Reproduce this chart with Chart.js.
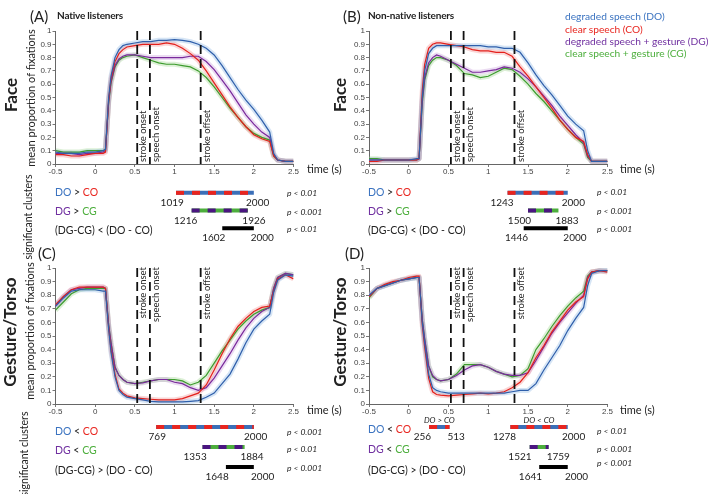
<!DOCTYPE html>
<html>
<head>
<meta charset="utf-8">
<script src="https://cdn.jsdelivr.net/npm/chart.js@4.4.1/dist/chart.umd.min.js"></script>
<style>
  html, body { margin: 0; padding: 0; background: #fff; }
  #fig { position: relative; width: 709px; height: 494px; overflow: hidden; font-family: Lato, "Open Sans", sans-serif; color: #222; }
  #fig canvas { position: absolute; }
  .t { position: absolute; white-space: nowrap; transform: translateY(-50%); line-height: 1; }
  .rot { position: absolute; white-space: nowrap; transform: translate(-50%, -50%) rotate(-90deg); line-height: 1; }
</style>
</head>
<body>
<div id="fig"></div>
<script>
// eixo do tempo (s), comum aos quatro painéis
const times = [-0.5, -0.4, -0.3, -0.2, -0.1, 0, 0.1, 0.13, 0.17, 0.2, 0.25, 0.3, 0.35, 0.4, 0.5, 0.6, 0.7, 0.8, 0.9, 1.0,
  1.1, 1.2, 1.3, 1.4, 1.5, 1.6, 1.7, 1.8, 1.9, 2.0, 2.1, 2.2, 2.25, 2.3, 2.4, 2.5];

// (A) Face, native listeners
const faceNatDO = [0.09,0.08,0.08,0.08,0.09,0.09,0.10,0.11,0.50,0.66,0.80,0.86,0.89,0.90,0.91,0.92,0.92,0.93,0.93,0.935,0.93,0.92,0.90,0.87,0.82,0.74,0.65,0.56,0.48,0.41,0.33,0.24,0.08,0.03,0.02,0.02];
const faceNatCO = [0.07,0.07,0.06,0.06,0.07,0.08,0.08,0.09,0.48,0.64,0.77,0.83,0.86,0.88,0.89,0.90,0.90,0.90,0.91,0.90,0.87,0.83,0.78,0.70,0.61,0.52,0.43,0.35,0.28,0.22,0.19,0.17,0.06,0.03,0.02,0.02];
const faceNatDG = [0.08,0.08,0.08,0.07,0.08,0.08,0.09,0.10,0.47,0.62,0.74,0.79,0.81,0.82,0.82,0.81,0.80,0.80,0.80,0.80,0.80,0.81,0.81,0.77,0.71,0.63,0.55,0.46,0.37,0.30,0.24,0.20,0.07,0.03,0.02,0.02];
const faceNatCG = [0.10,0.09,0.09,0.09,0.10,0.10,0.10,0.11,0.46,0.61,0.73,0.78,0.80,0.81,0.82,0.80,0.78,0.76,0.75,0.75,0.74,0.73,0.70,0.65,0.58,0.50,0.42,0.35,0.28,0.23,0.20,0.18,0.06,0.03,0.02,0.02];

// (B) Face, non-native listeners
const faceNonDO = [0.03,0.03,0.03,0.03,0.03,0.03,0.04,0.04,0.50,0.70,0.83,0.87,0.89,0.89,0.89,0.89,0.89,0.89,0.89,0.88,0.88,0.87,0.87,0.84,0.76,0.67,0.59,0.52,0.44,0.36,0.30,0.25,0.10,0.02,0.02,0.02];
const faceNonCO = [0.02,0.02,0.03,0.03,0.03,0.03,0.03,0.04,0.55,0.75,0.87,0.90,0.91,0.91,0.90,0.89,0.88,0.86,0.85,0.85,0.84,0.84,0.81,0.73,0.66,0.58,0.50,0.42,0.33,0.26,0.20,0.17,0.07,0.02,0.02,0.02];
const faceNonDG = [0.03,0.03,0.03,0.03,0.03,0.03,0.03,0.04,0.48,0.65,0.76,0.80,0.82,0.81,0.78,0.75,0.72,0.69,0.69,0.70,0.71,0.73,0.72,0.69,0.64,0.58,0.51,0.44,0.36,0.29,0.22,0.16,0.06,0.02,0.02,0.02];
const faceNonCG = [0.04,0.04,0.03,0.03,0.03,0.03,0.03,0.04,0.46,0.63,0.74,0.78,0.80,0.80,0.78,0.74,0.68,0.67,0.65,0.66,0.69,0.72,0.71,0.66,0.60,0.53,0.47,0.40,0.33,0.26,0.20,0.15,0.05,0.02,0.02,0.02];

// (C) Gesture/Torso, native listeners
const gestNatDO = [0.72,0.78,0.83,0.84,0.84,0.84,0.83,0.83,0.55,0.38,0.20,0.10,0.07,0.05,0.04,0.03,0.02,0.015,0.015,0.015,0.015,0.02,0.025,0.05,0.08,0.15,0.22,0.33,0.45,0.55,0.61,0.66,0.82,0.91,0.95,0.94];
const gestNatCO = [0.73,0.79,0.84,0.86,0.86,0.86,0.86,0.85,0.56,0.40,0.22,0.11,0.08,0.06,0.045,0.04,0.035,0.03,0.03,0.03,0.04,0.06,0.08,0.14,0.25,0.37,0.48,0.57,0.63,0.68,0.71,0.72,0.83,0.92,0.95,0.92];
const gestNatDG = [0.72,0.79,0.84,0.85,0.86,0.86,0.86,0.85,0.58,0.45,0.27,0.21,0.18,0.16,0.15,0.155,0.17,0.18,0.18,0.16,0.15,0.12,0.10,0.12,0.19,0.28,0.37,0.47,0.56,0.63,0.68,0.71,0.85,0.93,0.96,0.95];
const gestNatCG = [0.69,0.75,0.81,0.84,0.85,0.85,0.85,0.85,0.58,0.45,0.27,0.21,0.18,0.16,0.15,0.16,0.17,0.18,0.18,0.18,0.17,0.14,0.16,0.21,0.30,0.39,0.47,0.55,0.61,0.66,0.69,0.71,0.85,0.93,0.96,0.95];

// (D) Gesture/Torso, non-native listeners
const gestNonDO = [0.80,0.85,0.87,0.89,0.91,0.92,0.93,0.93,0.60,0.45,0.22,0.12,0.10,0.09,0.08,0.08,0.08,0.08,0.08,0.08,0.08,0.08,0.09,0.10,0.10,0.15,0.25,0.34,0.43,0.54,0.63,0.71,0.87,0.96,0.98,0.98];
const gestNonCO = [0.79,0.85,0.88,0.90,0.91,0.93,0.94,0.94,0.58,0.42,0.19,0.09,0.07,0.065,0.06,0.065,0.07,0.075,0.08,0.075,0.08,0.09,0.12,0.16,0.23,0.34,0.43,0.53,0.61,0.69,0.75,0.79,0.92,0.97,0.98,0.97];
const gestNonDG = [0.79,0.85,0.87,0.89,0.91,0.92,0.93,0.93,0.62,0.48,0.28,0.21,0.18,0.17,0.18,0.21,0.25,0.28,0.29,0.27,0.24,0.22,0.21,0.21,0.23,0.32,0.42,0.52,0.60,0.67,0.74,0.80,0.93,0.97,0.98,0.98];
const gestNonCG = [0.78,0.85,0.87,0.89,0.91,0.92,0.93,0.93,0.62,0.48,0.28,0.20,0.18,0.17,0.18,0.22,0.29,0.29,0.29,0.27,0.24,0.22,0.20,0.21,0.26,0.40,0.48,0.57,0.65,0.72,0.78,0.83,0.94,0.97,0.98,0.98];

// marcadores verticais
const eventTimes = [0.53, 0.69, 1.33];
const eventNames = ['stroke onset', 'speech onset', 'stroke offset'];

// clusters significativos: [linha, inicio (ms), fim (ms), nota]
const clustersA = [[0, 1019, 2000], [1, 1216, 1926], [2, 1602, 2000]];
const clustersB = [[0, 1243, 2000], [1, 1500, 1883], [2, 1446, 2000]];
const clustersC = [[0, 769, 2000], [1, 1353, 1884], [2, 1648, 2000]];
const clustersD = [[0, 256, 513, 'DO > CO'], [0, 1278, 2000, 'DO < CO'], [1, 1521, 1759], [2, 1641, 2000]];
const pValuesA = ['p < 0.01', 'p < 0.001', 'p < 0.01'];
const pValuesB = ['p < 0.01', 'p < 0.001', 'p < 0.001'];
const pValuesC = ['p < 0.001', 'p < 0.01', 'p < 0.001'];
const pValuesD = ['p < 0.01', 'p < 0.001', 'p < 0.001'];
const rowsFace = ['DO > CO', 'DG > CG', '(DG-CG) < (DO - CO)'];
const rowsGesture = ['DO < CO', 'DG < CG', '(DG-CG) > (DO - CO)'];

const legendNames = ['degraded speech (DO)', 'clear speech (CO)', 'degraded speech + gesture (DG)', 'clear speech + gesture (CG)'];

const lineColors = ['#2f5fab', '#e3201c', '#7a2a9c', '#3d9c2e'];
const bandColors = ['rgba(130,175,225,0.33)', 'rgba(240,130,130,0.33)', 'rgba(195,150,215,0.33)', 'rgba(150,210,130,0.33)'];
const textColors = { DO: '#3b73c0', CO: '#e8251f', DG: '#7030a0', CG: '#4cae3c' };

Chart.defaults.font.family = '"Liberation Sans", Arial, sans-serif';
const fig = document.getElementById('fig');

function addCanvas(left, top, w, h) {
  const c = document.createElement('canvas');
  c.width = w; c.height = h;
  c.style.left = left + 'px'; c.style.top = top + 'px';
  c.style.width = w + 'px'; c.style.height = h + 'px';
  fig.appendChild(c);
  return c;
}

function addText(html, x, y, css, rotated) {
  const d = document.createElement('div');
  d.className = rotated ? 'rot' : 't';
  d.innerHTML = html;
  d.style.left = x + 'px';
  d.style.top = y + 'px';
  d.style.cssText += css || '';
  fig.appendChild(d);
}

function colorize(s) {
  return s.replace(/DO|CO|DG|CG/g, m => `<span style="color:${textColors[m]}">${m}</span>`);
}

const eventLabelPlugin = {
  id: 'eventLabels',
  afterDatasetsDraw(chart, args, opts) {
    const { ctx, chartArea, scales } = chart;
    ctx.save();
    ctx.font = '9.5px Lato, sans-serif';
    ctx.fillStyle = '#222';
    ctx.textBaseline = 'middle';
    eventTimes.forEach((t, i) => {
      const x = scales.x.getPixelForValue(t) + 6;
      const y = opts.pos === 'top' ? chartArea.top - 1 : chartArea.bottom - 2;
      ctx.save();
      ctx.translate(x, y);
      ctx.rotate(-Math.PI / 2);
      ctx.textAlign = opts.pos === 'top' ? 'right' : 'left';
      ctx.fillText(eventNames[i], 0, 0);
      ctx.restore();
    });
    ctx.restore();
  }
};

const axisTicks = { color: '#444', font: { size: 8 }, autoSkip: false, maxRotation: 0 };
const axisGrid = { display: true, drawOnChartArea: false, drawTicks: true, tickLength: 3, color: '#777' };
const axisBorder = { display: true, color: '#666', width: 1 };

function panelChart(box, area, series, labelPos) {
  const c = addCanvas(box.left, box.top, box.w, box.h);
  const datasets = [];
  series.forEach((vals, i) => {
    const pts = times.map((t, k) => ({ x: t, y: vals[k] }));
    datasets.push({ data: pts, borderColor: bandColors[i], borderWidth: 5, borderJoinStyle: 'round', order: 2, pointRadius: 0 });
    datasets.push({ data: pts, borderColor: lineColors[i], borderWidth: 1.2, order: 1, pointRadius: 0 });
  });
  eventTimes.forEach(t => {
    datasets.push({ data: [{ x: t, y: 1 }, { x: t, y: 0 }], borderColor: '#111', borderWidth: 1.8,
      borderDash: [9, 5], order: 0, pointRadius: 0 });
  });
  new Chart(c, {
    type: 'line',
    data: { datasets },
    options: {
      responsive: false, animation: false, devicePixelRatio: 1,
      layout: { padding: { left: 0, top: area.top - box.top, right: box.left + box.w - area.right, bottom: 0 } },
      plugins: { legend: { display: false }, tooltip: { enabled: false }, eventLabels: { pos: labelPos } },
      scales: {
        x: {
          type: 'linear', min: -0.5, max: 2.5,
          afterFit: s => { s.height = box.top + box.h - area.bottom; },
          ticks: { ...axisTicks, stepSize: 0.5, padding: 0, callback: v => String(Math.round(v * 10) / 10) },
          grid: axisGrid, border: axisBorder
        },
        y: {
          min: 0, max: 1,
          afterFit: s => { s.width = area.left - box.left; },
          ticks: { ...axisTicks, stepSize: 0.1, padding: 1, callback: v => String(Math.round(v * 10) / 10) },
          grid: axisGrid, border: axisBorder
        }
      }
    },
    plugins: [eventLabelPlugin]
  });
}

function clusterChart(box, area, clusters) {
  const c = addCanvas(box.left, box.top, box.w, box.h);
  const datasets = [];
  clusters.forEach(([row, start, end]) => {
    const pts = [{ x: start / 1000, y: row }, { x: end / 1000, y: row }];
    if (row === 2) {
      datasets.push({ data: pts, borderColor: '#000', borderWidth: 4, pointRadius: 0 });
    } else {
      datasets.push({ data: pts, borderColor: row === 0 ? '#e8251f' : '#4a1580', borderWidth: 4,
        borderDash: [8, 8], borderCapStyle: 'butt', order: 0, pointRadius: 0 });
      datasets.push({ data: pts, borderColor: row === 0 ? '#3b6fb8' : '#4cae3c', borderWidth: 4, order: 1, pointRadius: 0 });
    }
  });
  const numbers = {
    id: 'clusterNumbers',
    afterDatasetsDraw(chart) {
      const { ctx, scales } = chart;
      ctx.save();
      ctx.fillStyle = '#222';
      ctx.textBaseline = 'middle';
      clusters.forEach(([row, start, end, note]) => {
        const y = scales.y.getPixelForValue(row);
        const x1 = scales.x.getPixelForValue(start / 1000);
        const x2 = scales.x.getPixelForValue(end / 1000);
        const shift = Math.min(10, (x2 - x1) * 0.1);
        ctx.font = '10px Lato, sans-serif';
        ctx.textAlign = 'right';
        ctx.fillText(String(start), x1 + shift, y + 10);
        ctx.textAlign = 'left';
        ctx.fillText(String(end), x2 - shift, y + 10);
        if (note) {
          ctx.font = 'italic 8px Lato, sans-serif';
          ctx.textAlign = 'center';
          ctx.fillText(note, (x1 + x2) / 2, y - 7);
        }
      });
      ctx.restore();
    }
  };
  new Chart(c, {
    type: 'line',
    data: { datasets },
    options: {
      responsive: false, animation: false, devicePixelRatio: 1,
      layout: { padding: { left: area.left - box.left, right: box.left + box.w - area.right,
        top: area.top - box.top, bottom: box.top + box.h - area.bottom } },
      plugins: { legend: { display: false }, tooltip: { enabled: false } },
      scales: {
        x: { type: 'linear', display: false, min: -0.5, max: 2.5 },
        y: { type: 'linear', display: false, min: -0.5, max: 2.5, reverse: true }
      }
    },
    plugins: [numbers]
  });
}

// painéis
panelChart({ left: 0, top: 0, w: 355, h: 185 }, { left: 55.5, right: 293.5, top: 31, bottom: 164 },
  [faceNatDO, faceNatCO, faceNatDG, faceNatCG], 'bottom');
panelChart({ left: 330, top: 0, w: 379, h: 185 }, { left: 369, right: 607.5, top: 31, bottom: 164 },
  [faceNonDO, faceNonCO, faceNonDG, faceNonCG], 'bottom');
panelChart({ left: 0, top: 240, w: 355, h: 185 }, { left: 55.5, right: 293.5, top: 268, bottom: 404 },
  [gestNatDO, gestNatCO, gestNatDG, gestNatCG], 'top');
panelChart({ left: 330, top: 240, w: 379, h: 185 }, { left: 369, right: 607.5, top: 268, bottom: 404 },
  [gestNonDO, gestNonCO, gestNonDG, gestNonCG], 'top');

clusterChart({ left: 0, top: 180, w: 355, h: 62 }, { left: 55.5, right: 293.5, top: 184, bottom: 237 }, clustersA);
clusterChart({ left: 330, top: 180, w: 379, h: 62 }, { left: 369, right: 607.5, top: 184, bottom: 237 }, clustersB);
clusterChart({ left: 0, top: 410, w: 355, h: 84 }, { left: 55.5, right: 293.5, top: 417, bottom: 477 }, clustersC);
clusterChart({ left: 330, top: 410, w: 379, h: 84 }, { left: 369, right: 607.5, top: 417, bottom: 477 }, clustersD);

// textos
addText('(A)', 30, 16, 'font-size:15px;');
addText('Native listeners', 57, 15, 'font-size:10px;font-weight:bold;letter-spacing:-0.2px;');
addText('(B)', 343, 16, 'font-size:15px;');
addText('Non-native listeners', 368, 15, 'font-size:10px;font-weight:bold;letter-spacing:-0.2px;');
addText('(C)', 38, 253, 'font-size:15px;');
addText('(D)', 345, 253, 'font-size:15px;');

const legendY = [16, 28.5, 41, 53];
legendNames.forEach((n, i) => {
  addText(n, 565, legendY[i], `font-size:10.2px;color:${Object.values(textColors)[i]};`);
});

addText('Face', 10, 95, 'font-size:17px;font-weight:bold;', true);
addText('Face', 339, 95, 'font-size:17px;font-weight:bold;', true);
addText('Gesture/Torso', 9, 332, 'font-size:17px;font-weight:bold;', true);
addText('Gesture/Torso', 339, 332, 'font-size:17px;font-weight:bold;', true);
addText('mean proportion of fixations', 30, 98, 'font-size:11px;', true);
addText('mean proportion of fixations', 29, 331, 'font-size:11px;', true);
addText('significant clusters', 28, 217, 'font-size:10.5px;', true);
addText('significant clusters', 24, 454, 'font-size:10.5px;', true);

addText('time (s)', 307, 168, 'font-size:11px;');
addText('time (s)', 620, 168, 'font-size:11px;');
addText('time (s)', 307, 409, 'font-size:11px;');
addText('time (s)', 620, 409, 'font-size:11px;');

function clusterLabels(rows, pvals, x, ys, px, pys) {
  rows.forEach((r, i) => {
    addText(i < 2 ? colorize(r) : r, x, ys[i], 'font-size:10.5px;');
    addText(pvals[i], px, pys[i], 'font-size:8.5px;font-style:italic;');
  });
}
clusterLabels(rowsFace, pValuesA, 55, [192, 211, 230], 287, [193, 212, 229]);
clusterLabels(rowsFace, pValuesB, 368, [192, 211, 230], 597, [192, 211, 229]);
clusterLabels(rowsGesture, pValuesC, 55, [431, 450, 470], 287, [432, 449, 468]);
clusterLabels(rowsGesture, pValuesD, 368, [429, 449, 470], 597, [431, 449, 463]);
</script>
</body>
</html>
